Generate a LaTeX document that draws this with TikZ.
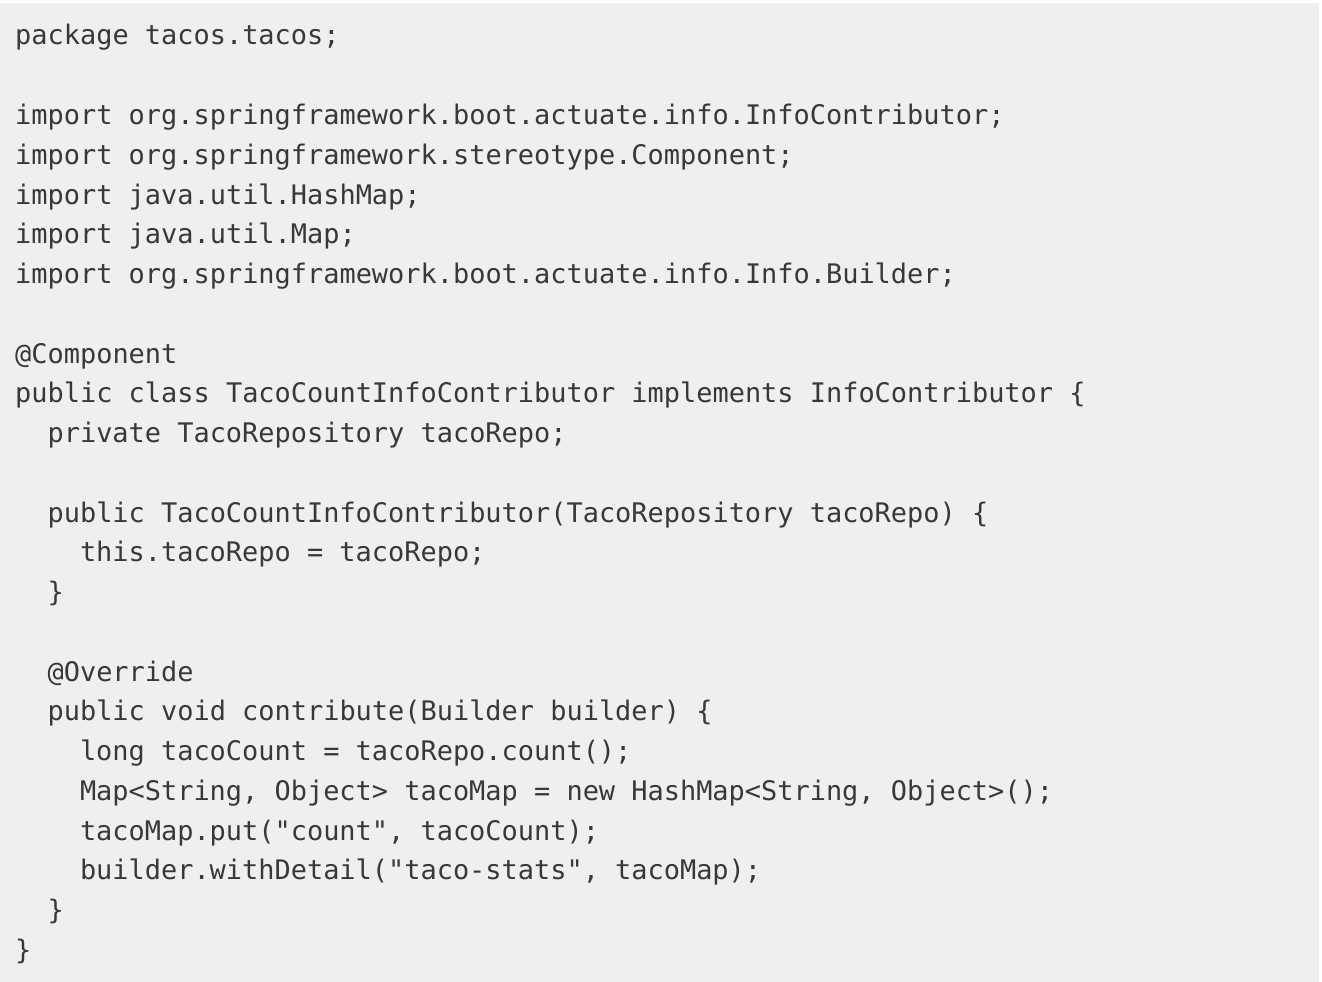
\documentclass[tikz,border=0pt]{standalone}
\usepackage{fontspec}
\usepackage{xcolor}
\newfontfamily\codefont{DejaVu Sans Mono}
\definecolor{fondo}{HTML}{EFEFEF}
\definecolor{tinta}{HTML}{383838}

\begin{document}
\begin{tikzpicture}[x=1pt,y=-1pt,
    linea/.style={anchor=base west, inner sep=0pt, text=tinta,
      font=\codefont\fontsize{26.94pt}{32pt}\selectfont}]

    % lienzo y fondo gris
    \useasboundingbox (0,0) rectangle (1322,982);
    \fill[white] (0,0) rectangle (1322,982);
    \fill[fondo] (0,3) rectangle (1319,982);

    % paquete e imports
    \node[linea] (l1) at (15,45) {package tacos.tacos;};
    \node[linea] (l3) at (15,124.5) {import org.springframework.boot.actuate.info.InfoContributor;};
    \node[linea] (l4) at (15,164.25) {import org.springframework.stereotype.Component;};
    \node[linea] (l5) at (15,204) {import java.util.HashMap;};
    \node[linea] (l6) at (15,243.75) {import java.util.Map;};
    \node[linea] (l7) at (15,283.5) {import org.springframework.boot.actuate.info.Info.Builder;};

    % clase
    \node[linea] (l9) at (15,363) {@Component};
    \node[linea] (l10) at (15,402.75) {public class TacoCountInfoContributor implements InfoContributor \{};
    \node[linea] (l11) at (47.4,442.5) {private TacoRepository tacoRepo;};

    % constructor
    \node[linea] (l13) at (47.4,522) {public TacoCountInfoContributor(TacoRepository tacoRepo) \{};
    \node[linea] (l14) at (79.8,561.75) {this.tacoRepo = tacoRepo;};
    \node[linea] (l15) at (47.4,601.5) {\}};

    % metodo contribute
    \node[linea] (l17) at (47.4,681) {@Override};
    \node[linea] (l18) at (47.4,720.75) {public void contribute(Builder builder) \{};
    \node[linea] (l19) at (79.8,760.5) {long tacoCount = tacoRepo.count();};
    \node[linea] (l20) at (79.8,800.25) {Map<String, Object> tacoMap = new HashMap<String, Object>();};
    \node[linea] (l21) at (79.8,840) {tacoMap.put("count", tacoCount);};
    \node[linea] (l22) at (79.8,879.75) {builder.withDetail("taco-stats", tacoMap);};
    \node[linea] (l23) at (47.4,919.5) {\}};
    \node[linea] (l24) at (15,959.25) {\}};

\end{tikzpicture}
\end{document}
